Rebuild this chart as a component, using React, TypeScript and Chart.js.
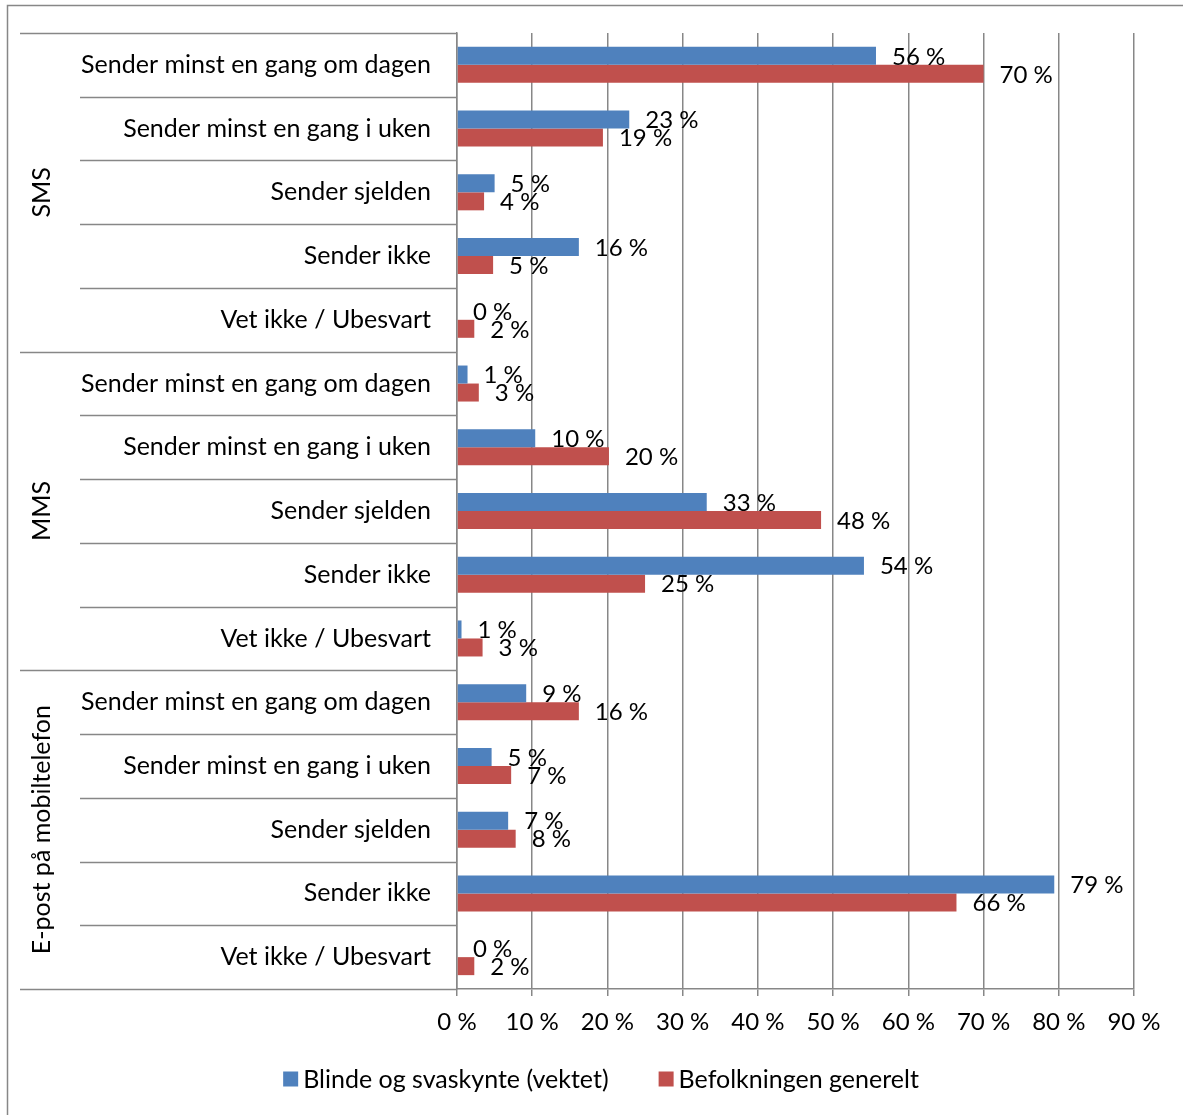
import React, { useEffect, useRef } from "react";
import { Chart, registerables } from "chart.js";

Chart.register(...registerables);

const groups = ["SMS", "MMS", "E-post på mobiltelefon"];
const answers = [
  "Sender minst en gang om dagen",
  "Sender minst en gang i uken",
  "Sender sjelden",
  "Sender ikke",
  "Vet ikke / Ubesvart",
];
const seriesNames = ["Blinde og svaskynte (vektet)", "Befolkningen generelt"];
const seriesColors = ["#4F81BD", "#C0504D"];
const blindValues = [55.7, 22.9, 5.0, 16.2, 0.0, 1.4, 10.4, 33.2, 54.1, 0.6, 9.2, 4.6, 6.8, 79.4, 0.0];
const populationValues = [70.0, 19.4, 3.6, 4.8, 2.3, 2.9, 20.2, 48.4, 25.0, 3.4, 16.2, 7.2, 7.8, 66.4, 2.3];
const xTicks = [0, 10, 20, 30, 40, 50, 60, 70, 80, 90];

const FONT = "Lato, 'Open Sans', sans-serif";
const GRAY = "#878787";

export default function App() {
  const ref = useRef<HTMLCanvasElement | null>(null);

  useEffect(() => {
    if (!ref.current) return;
    const labels = groups.flatMap(() => answers);

    const decor = {
      id: "decor",
      afterDraw(chart: any) {
        const ctx = chart.ctx;
        const area = chart.chartArea;
        const n = labels.length;
        const step = (area.bottom - area.top) / n;
        ctx.save();
        // outer border
        ctx.strokeStyle = GRAY;
        ctx.lineWidth = 1.5;
        ctx.beginPath();
        ctx.moveTo(7.5, 1200);
        ctx.lineTo(7.5, 5.5);
        ctx.lineTo(1300, 5.5);
        ctx.stroke();
        // category separators
        for (let k = 0; k <= n; k++) {
          const yy = Math.round(area.top + k * step) + 0.5;
          const x0 = k % answers.length === 0 ? 20 : 80;
          ctx.beginPath();
          ctx.moveTo(x0, yy);
          ctx.lineTo(area.left, yy);
          ctx.stroke();
        }
        // group labels
        ctx.fillStyle = "#000";
        ctx.font = `25px ${FONT}`;
        ctx.textAlign = "center";
        ctx.textBaseline = "middle";
        groups.forEach((g, i) => {
          const cy = area.top + (i * answers.length + answers.length / 2) * step;
          ctx.save();
          ctx.translate(42, cy);
          ctx.rotate(-Math.PI / 2);
          ctx.fillText(g, 0, 0);
          ctx.restore();
        });
        // data labels
        ctx.font = `24px ${FONT}`;
        ctx.textAlign = "left";
        chart.data.datasets.forEach((ds: any, di: number) => {
          const meta = chart.getDatasetMeta(di);
          meta.data.forEach((el: any, i: number) => {
            const v = ds.data[i];
            ctx.fillText(`${Math.round(v)} %`, el.x + 16, el.y + 1);
          });
        });
        // legend
        ctx.font = `25px ${FONT}`;
        const box = 15;
        const gap = 5;
        const spacing = 50;
        const widths = seriesNames.map((s) => ctx.measureText(s).width);
        const total = widths.reduce((a, b) => a + b, 0) + seriesNames.length * (box + gap) + spacing;
        let lx = 601 - total / 2;
        const ly = 1079;
        seriesNames.forEach((s, i) => {
          ctx.fillStyle = seriesColors[i];
          ctx.fillRect(lx, ly - box / 2, box, box);
          ctx.fillStyle = "#000";
          ctx.fillText(s, lx + box + gap, ly + 1);
          lx += box + gap + widths[i] + spacing;
        });
        ctx.restore();
      },
    };

    const chart = new Chart(ref.current, {
      type: "bar",
      data: {
        labels,
        datasets: [
          { label: seriesNames[0], data: blindValues, backgroundColor: seriesColors[0] },
          { label: seriesNames[1], data: populationValues, backgroundColor: seriesColors[1] },
        ],
      },
      options: {
        indexAxis: "y",
        responsive: false,
        animation: false,
        layout: { padding: { left: 0, right: 49, top: 28, bottom: 76 } },
        datasets: { bar: { categoryPercentage: 0.565, barPercentage: 1 } },
        plugins: { legend: { display: false }, tooltip: { enabled: false } },
        scales: {
          x: {
            min: 0,
            max: 90,
            afterBuildTicks: (s: any) => {
              s.ticks = xTicks.map((v) => ({ value: v }));
            },
            afterFit: (s: any) => {
              s.height = 50;
            },
            ticks: {
              callback: (v: any) => `${v} %`,
              color: "#000",
              font: { family: FONT, size: 24 },
              padding: 12,
              maxRotation: 0,
              autoSkip: false,
            },
            grid: { color: GRAY, lineWidth: 1.5, tickLength: 7 },
            border: { color: GRAY, width: 1.5 },
          },
          y: {
            afterFit: (s: any) => {
              s.width = 457;
            },
            ticks: {
              color: "#000",
              font: { family: FONT, size: 25 },
              padding: 18,
              autoSkip: false,
            },
            grid: { display: false },
            border: { color: GRAY, width: 1.5 },
          },
        },
      },
      plugins: [decor],
    });
    return () => chart.destroy();
  }, []);

  return (
    <div style={{ position: "fixed", left: 0, top: 0, width: 1183, height: 1115, background: "#fff" }}>
      <canvas ref={ref} width={1183} height={1115} />
    </div>
  );
}
